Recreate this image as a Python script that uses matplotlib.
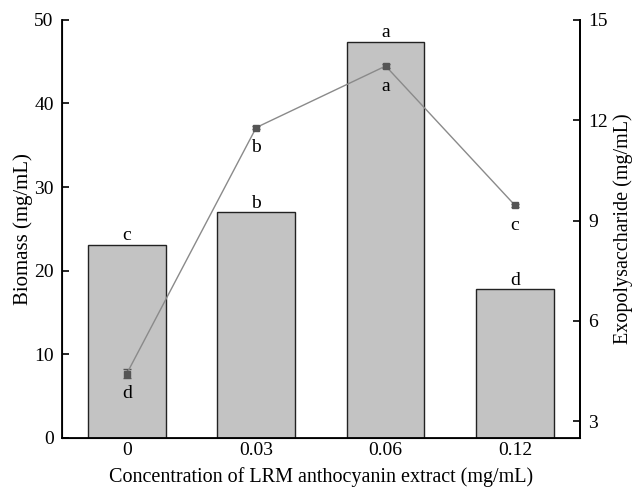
import matplotlib.pyplot as plt
import numpy as np

plt.rcParams['font.family'] = ['Liberation Serif', 'DejaVu Serif']

conc = ["0", "0.03", "0.06", "0.12"]
biomass = [23.1, 27.0, 47.4, 17.8]
biomass_lbl = ["c", "b", "a", "d"]
eps = [4.42, 11.78, 13.62, 9.45]
eps_err = [0.13, 0.05, 0.07, 0.05]
eps_lbl = ["d", "b", "a", "c"]

x = np.arange(len(conc))

fig = plt.figure(figsize=(6.33, 4.97), dpi=100)
ax = fig.add_axes([0.098, 0.119, 0.818, 0.841])
ax.bar(x, biomass, width=0.6, color="#c3c3c3", edgecolor="#222222", linewidth=1.0, zorder=2)
for xi, v, t in zip(x, biomass, biomass_lbl):
    ax.text(xi, v + 0.05, t, ha="center", va="bottom", fontsize=14)

ax.set_xlim(-0.5, 3.5)
ax.set_ylim(0, 50)
ax.set_xticks(x)
ax.set_xticklabels(conc)
ax.set_yticks([0, 10, 20, 30, 40, 50])
ax.tick_params(direction="in", labelsize=14, width=1.2, length=5)
ax.tick_params(axis="y", pad=6)
ax.tick_params(axis="x", pad=3)
ax.spines["top"].set_visible(False)
for s in ["left", "bottom", "right"]:
    ax.spines[s].set_linewidth(1.3)
ax.set_xlabel("Concentration of LRM anthocyanin extract (mg/mL)", fontsize=14.5, labelpad=6)
ax.set_ylabel("Biomass (mg/mL)", fontsize=15, labelpad=1)

ax2 = ax.twinx()
ax2.errorbar(x, eps, yerr=eps_err, color="#8a8a8a", linewidth=1.0, marker="s",
             markersize=4, markerfacecolor="#555555", markeredgecolor="#555555",
             ecolor="#555555", elinewidth=1.0, capsize=3, zorder=3)
for xi, v, t in zip(x, eps, eps_lbl):
    ax2.text(xi, v - 0.35, t, ha="center", va="top", fontsize=14)
ax2.set_ylim(2.5, 15)
ax2.set_yticks([3, 6, 9, 12, 15])
ax2.tick_params(direction="in", labelsize=14, width=1.2, length=5, pad=6)
ax2.spines["top"].set_visible(False)
ax2.spines["right"].set_linewidth(1.3)
ax2.set_ylabel("Exopolysaccharide (mg/mL)", fontsize=14.5, labelpad=4)

fig.savefig("out.png", dpi=100)
